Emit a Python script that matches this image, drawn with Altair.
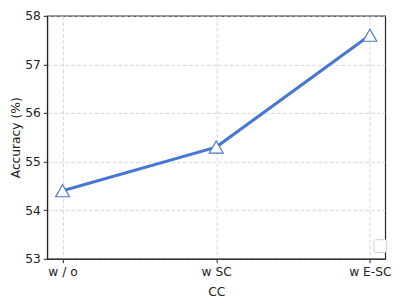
import altair as alt
import pandas as pd

categories = ["w / o", "w SC", "w E-SC"]
accuracy = [54.4, 55.3, 57.6]

df = pd.DataFrame({"cat": categories, "acc": accuracy, "s": [""] * 3})

blue = "#4677d2"

x = alt.X("cat:N", sort=categories, title="CC",
          scale=alt.Scale(type="point", padding=0.1),
          axis=alt.Axis(labelAngle=0, grid=True))
y = alt.Y("acc:Q", title="Accuracy (%)",
          scale=alt.Scale(domain=[53, 58], nice=False, zero=False),
          axis=alt.Axis(values=[53, 54, 55, 56, 57, 58], grid=True))

line = alt.Chart(df).mark_line(color=blue, strokeWidth=3).encode(x=x, y=y)
pts = alt.Chart(df).mark_point(shape="triangle-up", filled=True, fill="white",
                               stroke=blue, strokeWidth=1.2, size=200, opacity=1).encode(
    x=x, y=y,
    color=alt.Color("s:N", scale=alt.Scale(range=["transparent"]),
                    legend=alt.Legend(title=None, orient="none", legendX=333, legendY=228,
                                      padding=5, symbolSize=6, symbolOpacity=0,
                                      labelFontSize=1, labelOffset=0,
                                      strokeColor="#cfcfcf",
                                      cornerRadius=2, fillColor="white",
                                      symbolStrokeWidth=0, labelLimit=1)))

chart = (line + pts).properties(
    width=345, height=248,
    autosize=alt.AutoSizeParams(type="none"),
    padding={"left": 40, "top": 5, "right": 11, "bottom": 37},
).configure_view(stroke="#222222", strokeWidth=1.2).configure_axis(
    labelFont="DejaVu Sans", titleFont="DejaVu Sans",
    labelFontSize=12.5, titleFontSize=12.5, titleFontWeight="normal",
    labelColor="#222", titleColor="#222",
    domainColor="#222", tickColor="#222", tickSize=4,
    gridColor="#cccccc", gridDash=[4, 2], gridWidth=0.8,
    labelPadding=3,
).configure_axisX(titlePadding=8).configure_axisY(titlePadding=2)

chart.save("out.html", embed_options={"renderer": "svg", "actions": False})
